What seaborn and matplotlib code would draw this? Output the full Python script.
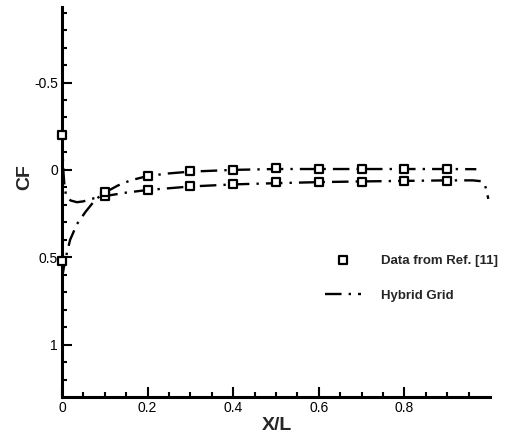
import matplotlib
matplotlib.use("Agg")
import matplotlib.pyplot as plt
from matplotlib.ticker import FixedLocator
import numpy as np
import pandas as pd
import seaborn as sns

# hybrid grid solution, lower row (upper surface) and upper row (lower surface)
grid_x_a = [0.0, 0.003, 0.006, 0.01, 0.02, 0.035, 0.05, 0.07, 0.1, 0.15, 0.2, 0.3, 0.4,
            0.5, 0.6, 0.7, 0.8, 0.9, 0.96, 0.98, 0.988, 0.992, 0.996]
grid_cf_a = [-0.2, 0.0, 0.1, 0.15, 0.175, 0.185, 0.18, 0.165, 0.15, 0.13, 0.115, 0.095, 0.083,
             0.076, 0.07, 0.066, 0.063, 0.06, 0.06, 0.065, 0.085, 0.12, 0.166]
grid_x_b = [0.0, 0.007, 0.019, 0.035, 0.055, 0.078, 0.1, 0.13, 0.16, 0.2, 0.25, 0.3, 0.4,
            0.5, 0.6, 0.7, 0.8, 0.9, 0.968]
grid_cf_b = [0.62, 0.52, 0.4, 0.31, 0.24, 0.17, 0.13, 0.09, 0.06, 0.035, 0.02, 0.01, 0.0,
             -0.005, -0.005, -0.005, -0.005, -0.005, -0.004]

# reference data (squares)
ref_x = [0.0, 0.1, 0.2, 0.3, 0.4, 0.5, 0.6, 0.7, 0.8, 0.9]
ref_cf_a = [-0.2, 0.15, 0.113, 0.092, 0.08, 0.072, 0.068, 0.067, 0.064, 0.062]
ref_cf_b = [0.52, 0.128, 0.033, 0.008, 0.0, -0.008, -0.004, -0.003, -0.007, -0.005]

sns.set_theme(style="ticks")
plt.rcParams["font.family"] = ["Liberation Sans", "DejaVu Sans"]

fig = plt.figure(figsize=(5.29, 4.36), dpi=100)
ax = fig.add_axes([0.1172, 0.0894, 0.8091, 0.8936])

dash = (0, (7, 3, 1, 3))
sns.lineplot(x=grid_x_a, y=grid_cf_a, ax=ax, color="black", lw=1.7, linestyle=dash,
             sort=False, estimator=None, label="Hybrid Grid")
sns.lineplot(x=grid_x_b, y=grid_cf_b, ax=ax, color="black", lw=1.7, linestyle=dash,
             sort=False, estimator=None)
sns.scatterplot(x=ref_x, y=ref_cf_a, ax=ax, marker="s", s=32, facecolor="white",
                edgecolor="black", linewidth=1.6, zorder=5, clip_on=False,
                label="Data from Ref. [11]")
sns.scatterplot(x=ref_x, y=ref_cf_b, ax=ax, marker="s", s=32, facecolor="white",
                edgecolor="black", linewidth=1.6, zorder=5, clip_on=False)

ax.set_xlim(0, 1.0)
ax.set_ylim(1.3, -0.93)
ax.xaxis.set_major_locator(FixedLocator([0, 0.2, 0.4, 0.6, 0.8]))
ax.xaxis.set_minor_locator(FixedLocator(np.arange(0.05, 0.96, 0.05)))
ax.set_xticklabels(["0", "0.2", "0.4", "0.6", "0.8"])
ax.yaxis.set_major_locator(FixedLocator([-0.5, 0, 0.5, 1]))
ax.yaxis.set_minor_locator(FixedLocator(np.arange(-0.9, 1.25, 0.1)))
ax.set_yticklabels(["-0.5", "0", "0.5", "1"])

ax.tick_params(which="both", direction="in", width=1.5, labelsize=10, colors="black")
ax.tick_params(which="major", length=7, pad=3)
ax.tick_params(which="minor", length=3.5)
sns.despine(ax=ax)
for s in ["left", "bottom"]:
    ax.spines[s].set_linewidth(2.2)
    ax.spines[s].set_color("black")

ax.set_xlabel("X/L", fontsize=14, fontweight="bold")
ax.set_ylabel("CF", fontsize=14, fontweight="bold")
ax.xaxis.set_label_coords(0.502, -0.05)
ax.yaxis.set_label_coords(-0.068, 0.565)

h, l = ax.get_legend_handles_labels()
order = [l.index("Data from Ref. [11]"), l.index("Hybrid Grid")]
leg = ax.legend([h[i] for i in order], [l[i] for i in order], loc="center left",
                bbox_to_anchor=(0.598, 0.305), frameon=False, handlelength=2.8,
                handletextpad=1.5, labelspacing=1.75, borderpad=0,
                prop={"weight": "bold", "size": 9.5})

fig.savefig("out.png", dpi=100)
